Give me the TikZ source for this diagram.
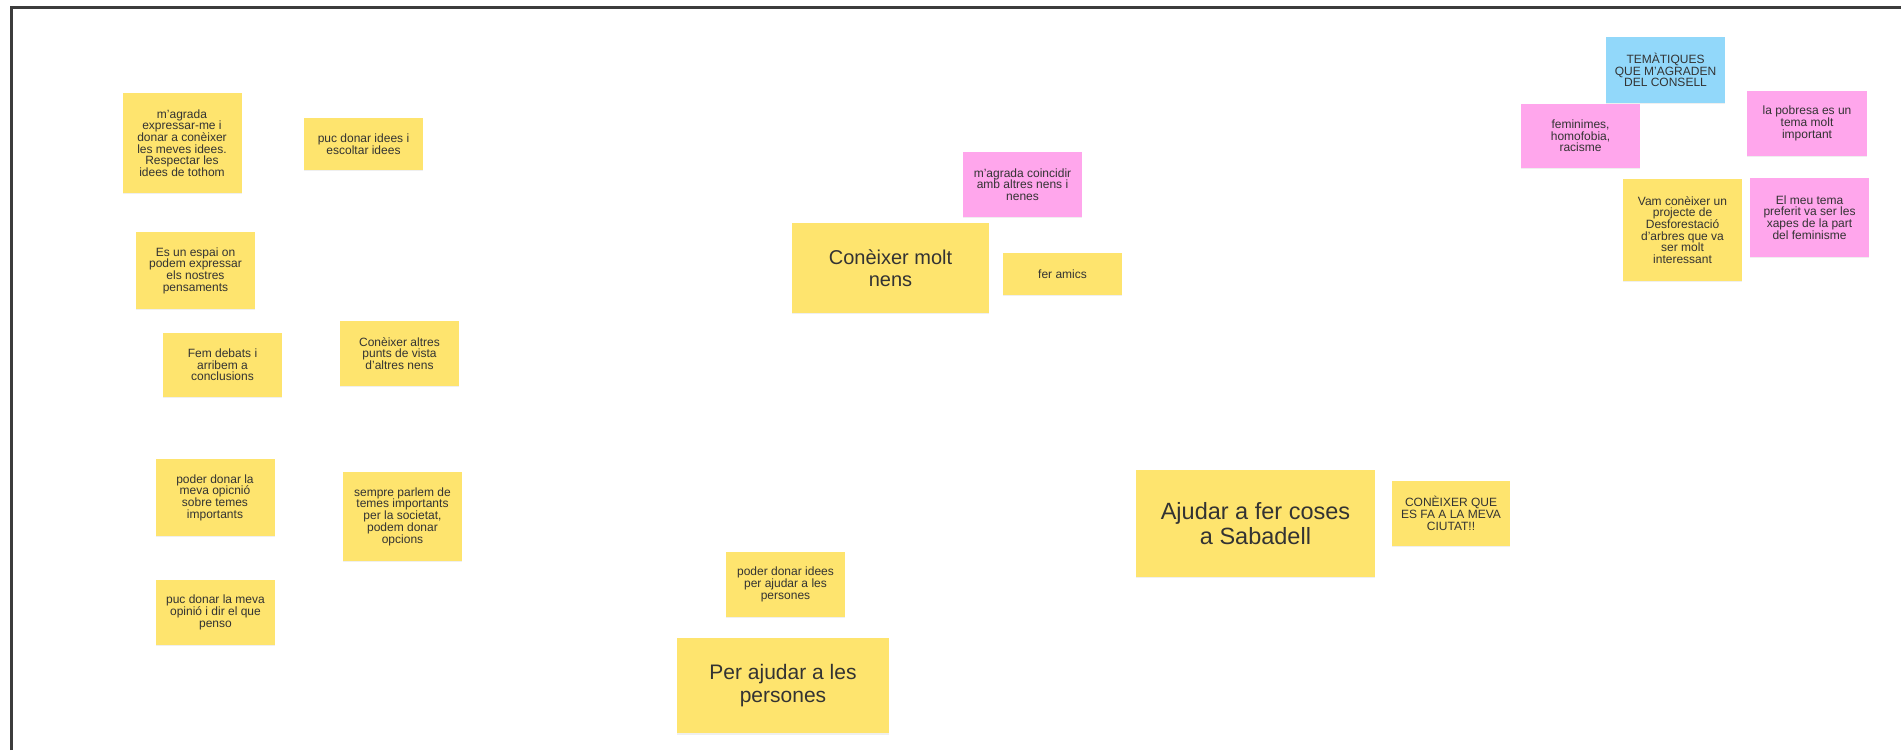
\documentclass[tikz,border=0pt]{standalone}
\usepackage{fontspec}
\setmainfont{Liberation Sans}
\usetikzlibrary{shapes.geometric, arrows, positioning, fit, calc, shadows}

\definecolor{noteyellow}{RGB}{254,228,110}
\definecolor{notepink}{RGB}{255,166,236}
\definecolor{noteblue}{RGB}{146,216,250}
\definecolor{notetext}{RGB}{51,51,51}
\definecolor{framegray}{RGB}{60,60,60}

\begin{document}
\begin{tikzpicture}[node distance=100pt, x=1pt, y=1pt]

        % Define styles for each type of sticky note
        \tikzstyle{note} = [rectangle, minimum width=119pt, minimum height=65pt, inner sep=0pt, align=center, text=notetext, font=\fontsize{12}{11.7}\selectfont, fill=noteyellow, drop shadow={shadow xshift=0pt, shadow yshift=-1.5pt, opacity=0.12}]
        \tikzstyle{pinknote} = [note, fill=notepink]
        \tikzstyle{bluenote} = [note, fill=noteblue]
        \tikzstyle{bignote} = [note, font=\fontsize{20}{22}\selectfont]

        % Canvas and frame
        \useasboundingbox (0,0) rectangle (1901,750);
        \fill[white] (0,0) rectangle (1901,750);
        \draw[framegray, line width=3pt] (11,0) -- (11,742) -- (1901,742);

        % Left group
        \node (magrada) [note, minimum height=100pt] at (182,607) {m'agrada\\expressar-me i\\donar a conèixer\\les meves idees.\\Respectar les\\idees de tothom};
        \node (pucIdees) [note, minimum height=52pt, right of=magrada, xshift=81.5pt, yshift=-1pt] {puc donar idees i\\escoltar idees};
        \node (espai) [note, minimum height=77pt, below of=magrada, xshift=13.5pt, yshift=-27.5pt] {Es un espai on\\podem expressar\\els nostres\\pensaments};
        \node (debats) [note, minimum height=64pt, below of=espai, xshift=27pt, yshift=5.5pt] {Fem debats i\\arribem a\\conclusions};
        \node (punts) [note, below of=pucIdees, xshift=36pt, yshift=-109.5pt] {Conèixer altres\\punts de vista\\d'altres nens};
        \node (opinio) [note, minimum height=77pt, below of=debats, xshift=-7.5pt, yshift=-32.5pt] {poder donar la\\meva opicnió\\sobre temes\\importants};
        \node (societat) [note, minimum height=89pt, right of=opinio, xshift=87.5pt, yshift=-19pt] {sempre parlem de\\temes importants\\per la societat,\\podem donar\\opcions};
        \node (penso) [note, below of=opinio, xshift=0.5pt, yshift=-15pt] {puc donar la meva\\opinió i dir el que\\penso};

        % Middle group
        \node (moltNens) [bignote, minimum width=197pt, minimum height=90pt] at (890.5,482) {Conèixer molt\\nens};
        \node (coincidir) [pinknote, above of=moltNens, xshift=132pt, yshift=-16.5pt] {m'agrada coincidir\\amb altres nens i\\nenes};
        \node (amics) [note, minimum height=42pt, right of=moltNens, xshift=72pt, yshift=-6pt] {fer amics};

        \node (persones) [bignote, font=\fontsize{21}{22.5}\selectfont, minimum width=212pt, minimum height=95pt] at (783,64.5) {Per ajudar a les\\persones};
        \node (ideesPersones) [note, above of=persones, xshift=2.5pt, yshift=1pt] {poder donar idees\\per ajudar a les\\persones};

        \node (sabadell) [bignote, font=\fontsize{23.5}{24.5}\selectfont, minimum width=239pt, minimum height=107pt] at (1255.5,226.5) {Ajudar a fer coses\\a Sabadell};
        \node (ciutat) [note, minimum width=118pt, right of=sabadell, xshift=95.5pt, yshift=10pt] {CONÈIXER QUE\\ES FA A LA MEVA\\CIUTAT!!};

        % Right group
        \node (tematiques) [bluenote, minimum height=66pt] at (1665.5,680) {TEMÀTIQUES\\QUE M'AGRADEN\\DEL CONSELL};
        \node (feminimes) [pinknote, minimum height=64pt, below of=tematiques, xshift=-85pt, yshift=34pt] {feminimes,\\homofobia,\\racisme};
        \node (pobresa) [pinknote, minimum width=120pt, right of=tematiques, xshift=41.5pt, yshift=-53.5pt] {la pobresa es un\\tema molt\\important};
        \node (desforestacio) [note, minimum height=102pt, below of=tematiques, xshift=17pt, yshift=-60pt] {Vam conèixer un\\projecte de\\Desforestació\\d'arbres que va\\ser molt\\interessant};
        \node (xapes) [pinknote, minimum height=79pt, below of=pobresa, xshift=2.5pt, yshift=6pt] {El meu tema\\preferit va ser les\\xapes de la part\\del feminisme};

    \end{tikzpicture}
\end{document}
